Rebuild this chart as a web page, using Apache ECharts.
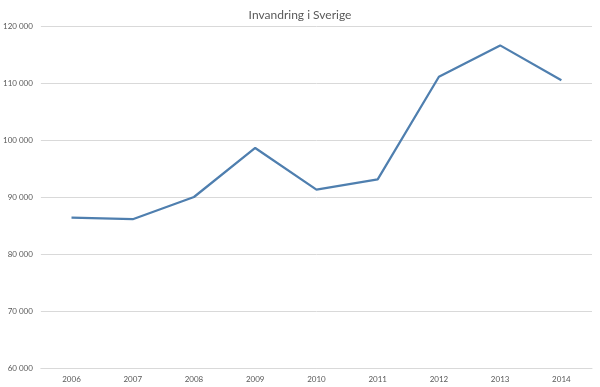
<!DOCTYPE html>
<html><head><meta charset="utf-8">
<script src="https://cdn.jsdelivr.net/npm/echarts@6/dist/echarts.min.js"></script>
<style>html,body{margin:0;padding:0;background:#fff}#c{width:600px;height:387px}</style>
</head><body><div id="c"></div>
<script>
const years = ['2006','2007','2008','2009','2010','2011','2012','2013','2014'];
const invandring = [86400, 86100, 90000, 98600, 91300, 93100, 111100, 116600, 110500];
const chart = echarts.init(document.getElementById('c'));
chart.setOption({
  animation: false,
  title: {text: 'Invandring i Sverige', left: 'center', top: 4,
    textStyle: {fontFamily: 'Lato', fontSize: 12, fontWeight: 'normal', color: '#595959'}},
  grid: {left: 35, right: 8, top: 26, bottom: 19},
  xAxis: {type: 'category', data: years, boundaryGap: true,
    axisLine: {lineStyle: {color: '#d9d9d9'}}, axisTick: {show: false},
    axisLabel: {fontFamily: 'Lato', fontSize: 8, color: '#595959', margin: 7}},
  yAxis: {type: 'value', min: 60000, max: 120000, interval: 10000,
    axisLine: {show: false}, axisTick: {show: false},
    splitLine: {lineStyle: {color: '#d9d9d9'}},
    axisLabel: {fontFamily: 'Lato', fontSize: 8, color: '#595959', margin: 8,
      formatter: v => String(v).replace(/\B(?=(\d{3})+(?!\d))/g, ' ')}},
  series: [{type: 'line', data: invandring, symbol: 'none',
    lineStyle: {color: '#4f7faf', width: 2.25}}]
});
</script></body></html>
